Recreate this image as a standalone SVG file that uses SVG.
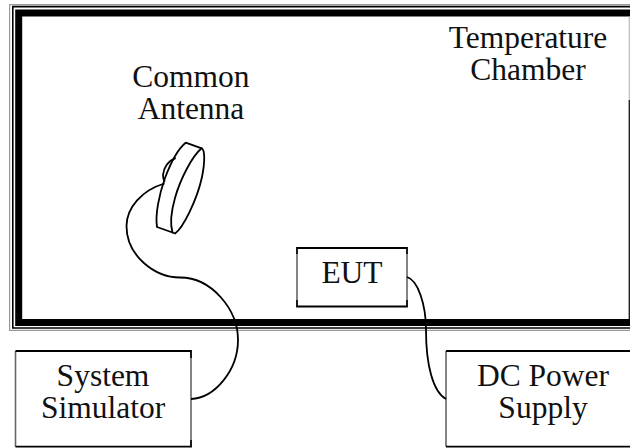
<svg xmlns="http://www.w3.org/2000/svg" width="630" height="448" viewBox="0 0 630 448">
<style>
text{font-family:"Liberation Serif","Times New Roman",serif;font-size:31.500px;fill:#111;text-anchor:middle}
.w{fill:none;stroke:#000;stroke-width:1.800;stroke-linecap:round;stroke-linejoin:round}
.s{fill:none;stroke:#666;stroke-width:1.600}
.e{fill:none;stroke:#000;stroke-width:1.800}
.g{fill:none;stroke:#999;stroke-width:1.200}
.t{fill:none;stroke:#000;stroke-width:1.600}
.k{fill:none;stroke:#000;stroke-width:1.800}
</style>
<rect width="630" height="448" fill="#fff"/>
<g id="chamber">
<path class="g" d="M631 4.700H9.600V330.300H631"/>
<path class="t" d="M631 6.600H12.800V328H631"/>
<rect x="18.700" y="13" width="620" height="309.500" fill="none" stroke="#000" stroke-width="7"/>
<path d="M629.300 16.500V100" stroke="#bbb" stroke-width="1.200" fill="none"/>
<path d="M629.300 100V319" stroke="#222" stroke-width="1.400" fill="none"/>
<text x="528" y="48">Temperature</text>
<text x="528" y="80">Chamber</text>
</g>
<g id="antenna">
<path class="w" d="M185.700 142.700L201.700 148.300C192 156 180 180 175 198C171 212 170 224 172.500 232.500L157 227C155 215 159 195 165 178C171 162 179 148 185.700 142.700Z"/>
<path class="w" d="M201.700 148.300C205 150 205 162 202 177C197 200 183 228 175 233.500L172.500 232.500"/>
<path class="w" d="M175 158.300C168 161 163.500 168 163 175C163 177.500 163.500 179.500 164.500 181"/>
<text x="191" y="87">Common</text>
<text x="191" y="119">Antenna</text>
</g>
<g id="eut">
<rect x="297" y="248" width="110" height="58.500" fill="#fff" stroke="none"/>
<path class="s" d="M297 254V300M407 254V300"/>
<path class="e" d="M297 254V248H407V254M297 300V306.500H407V300"/>
<text x="352" y="283">EUT</text>
</g>
<g id="system-simulator">
<rect x="15.500" y="351" width="175.500" height="95.700" fill="#fff" stroke="none"/>
<path class="s" d="M15.500 351V446.700M191 358V440"/>
<path class="e" d="M15.500 351H191V358M15.500 446.700H191V440"/>
<text x="103" y="386">System</text>
<text x="103" y="418">Simulator</text>
</g>
<g id="dc-power-supply">
<path class="s" d="M446 351V446.700"/>
<path class="e" d="M631 351H446M631 446.700H446"/>
<text x="543" y="386">DC Power</text>
<text x="543" y="418">Supply</text>
</g>
<g id="connectors">
<path class="k" d="M164.500 183.500C142 190 126.500 208 126.500 226C126.500 256 155 277.500 180 277.500C212 277.500 238 310 238 340C238 370 215 398 191 399"/>
<path class="k" d="M407 277C418 280 426 305 426 330C426 365 433 392 446 399"/>
</g>
</svg>
